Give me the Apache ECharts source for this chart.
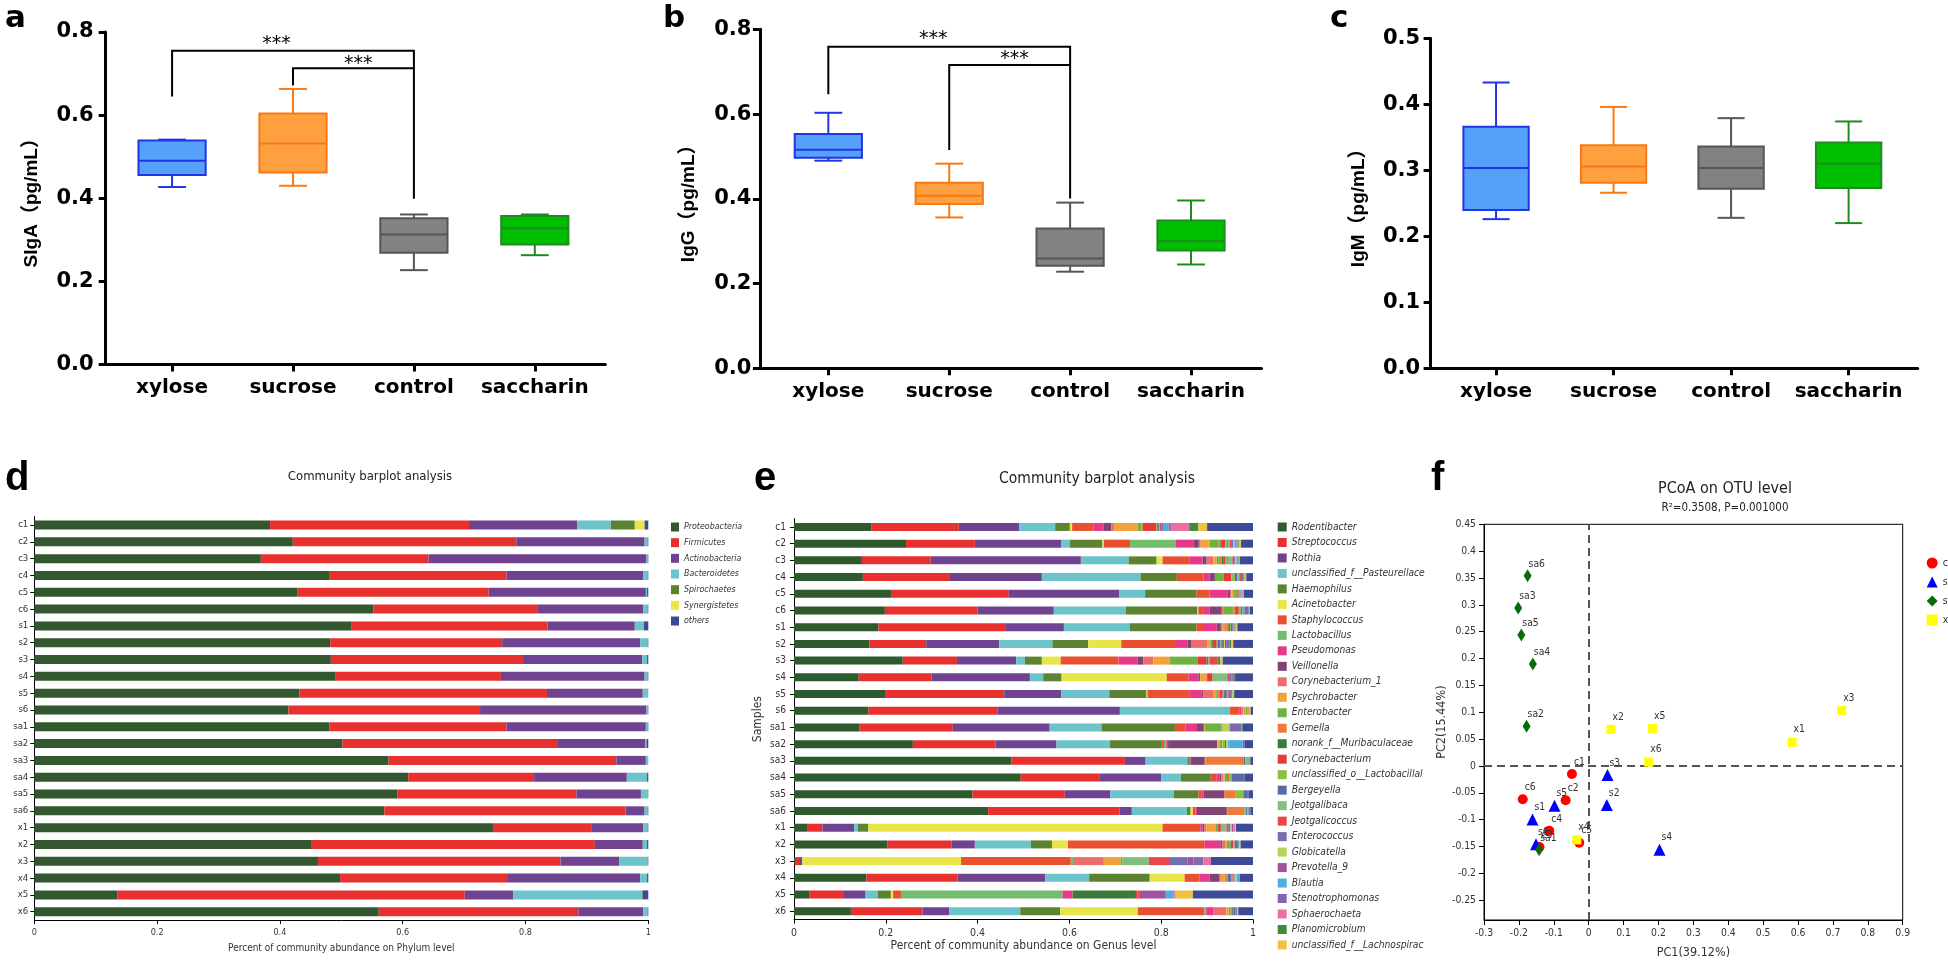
<!DOCTYPE html>
<html><head><meta charset="utf-8">
<script src="https://cdn.jsdelivr.net/npm/echarts@6/dist/echarts.min.js"></script>
<style>html,body{margin:0;padding:0;background:#fff}#c{width:1948px;height:964px}</style>
</head><body><div id="c"></div>
<script>
// ---------- DATA ----------
const groups = ['xylose', 'sucrose', 'control', 'saccharin'];
// [min, Q1, median, Q3, max]
const sigaBox = [[0.427, 0.456, 0.490, 0.539, 0.541], [0.430, 0.462, 0.532, 0.604, 0.663], [0.227, 0.269, 0.313, 0.352, 0.361], [0.263, 0.289, 0.328, 0.357, 0.361]];
const iggBox = [[0.490, 0.497, 0.516, 0.553, 0.603], [0.356, 0.388, 0.407, 0.438, 0.483], [0.228, 0.242, 0.259, 0.330, 0.391], [0.245, 0.278, 0.300, 0.349, 0.396]];
const igmBox = [[0.226, 0.240, 0.3035, 0.366, 0.433], [0.266, 0.281, 0.3056, 0.338, 0.396], [0.228, 0.272, 0.3035, 0.336, 0.379], [0.220, 0.273, 0.310, 0.342, 0.374]];
// [fromGroup, toGroup, barLevel, leftLegEnd, rightLegEnd]
const sigaBrackets = [[0, 2, 0.755, 0.645, 0.399], [1, 2, 0.713, 0.671, 0.713]];
const iggBrackets = [[0, 2, 0.759, 0.647, 0.401], [1, 2, 0.716, 0.515, 0.716]];
const sigaStars = [[0.864, 0.772], [1.54, 0.722]];
const iggStars = [[0.868, 0.778], [1.54, 0.729]];

const samples = ['c1','c2','c3','c4','c5','c6','s1','s2','s3','s4','s5','s6','sa1','sa2','sa3','sa4','sa5','sa6','x1','x2','x3','x4','x5','x6'];
const phyla = ['Proteobacteria', 'Firmicutes', 'Actinobacteria', 'Bacteroidetes', 'Spirochaetes', 'Synergistetes', 'others'];
const proteobacteria = [0.384,0.421,0.369,0.480,0.428,0.552,0.517,0.482,0.483,0.491,0.432,0.414,0.481,0.502,0.577,0.609,0.591,0.570,0.747,0.452,0.462,0.498,0.135,0.561];
const firmicutes = [0.324,0.364,0.273,0.289,0.312,0.267,0.319,0.280,0.313,0.269,0.403,0.312,0.288,0.351,0.371,0.205,0.292,0.393,0.160,0.461,0.395,0.272,0.566,0.325];
const actinobacteria = [0.176,0.209,0.355,0.223,0.256,0.173,0.142,0.225,0.194,0.234,0.156,0.271,0.227,0.142,0.048,0.151,0.105,0.031,0.085,0.078,0.096,0.217,0.079,0.106];
const bacteroidetes = [0.055,0.005,0.002,0.007,0.002,0.007,0.015,0.012,0.008,0.005,0.009,0.002,0.003,0.002,0.004,0.033,0.011,0.005,0.007,0.007,0.046,0.011,0.210,0.007];
const spirochaetes = [0.039,0,0,0,0,0,0,0,0,0,0,0,0,0,0,0,0.001,0,0,0,0,0,0.001,0];
const synergistetes = [0.016,0,0,0,0,0,0,0,0,0,0,0,0,0,0,0,0,0,0,0,0,0,0,0];
const phylumOthers = [0.006,0.001,0.001,0.001,0.002,0.001,0.007,0.001,0.002,0.001,0,0.001,0.001,0.003,0,0.002,0,0.001,0.001,0.002,0.001,0.002,0.009,0.001];

const genera = ['Rodentibacter','Streptococcus','Rothia','unclassified_f__Pasteurellaceae','Haemophilus','Acinetobacter','Staphylococcus','Lactobacillus','Pseudomonas','Veillonella','Corynebacterium_1','Psychrobacter','Enterobacter','Gemella','norank_f__Muribaculaceae','Corynebacterium','unclassified_o__Lactobacillales','Bergeyella','Jeotgalibaca','Jeotgalicoccus','Enterococcus','Globicatella','Prevotella_9','Blautia','Stenotrophomonas','Sphaerochaeta','Planomicrobium','unclassified_f__Lachnospiraceae','others'];
// per-sample genus abundances, in the order of `genera`
const gen_c1 = [.168,.191,.132,.078,.032,.005,.046,0,.023,.016,.006,.052,.008,.003,0,.029,.002,.004,.002,.003,.004,0,0,.012,.005,.040,.020,.019,.100];
const gen_c2 = [.244,.150,.188,.019,.071,.003,.057,.100,.038,.012,.004,.020,.019,.004,.003,.008,.004,.003,.003,.004,.003,.002,.001,.005,.001,.001,.002,.005,.026];
const gen_c3 = [.148,.150,.327,.104,.061,.013,.058,0,.029,.009,.015,.007,.005,.006,.003,.004,.004,.002,.010,.004,.002,.002,.001,.001,.001,.001,.002,.002,.029];
const gen_c4 = [.150,.188,.202,.215,.079,0,.058,0,.013,.012,0,0,.019,0,0,.017,.007,.006,.004,.004,.006,.004,.002,0,0,0,0,0,.014];
const gen_c5 = [.213,.255,.241,.056,.112,0,.028,0,.040,.005,.003,.004,.004,.003,.002,.003,.002,.002,.002,.002,.001,.002,0,0,0,0,0,0,.020];
const gen_c6 = [.198,.202,.166,.157,.156,.002,.012,0,.012,.027,.003,0,.022,.004,0,.008,.004,.003,.003,.002,.010,.002,0,0,0,0,0,0,.007];
const gen_s1 = [.184,.276,.128,.144,.145,0,.014,0,.030,.009,.004,.005,.003,.003,.002,.003,.002,.004,.002,.002,.002,.004,0,0,0,0,0,0,.034];
const gen_s2 = [.164,.124,.159,.116,.078,.072,.117,0,.027,.008,.035,.005,.003,.003,.002,.008,.002,.005,.002,.002,.005,.002,.004,0,.006,0,.004,.004,.043];
const gen_s3 = [.237,.118,.129,.019,.037,.041,.126,0,.041,.013,.022,.035,.061,0,0,.020,0,.003,.003,.017,.002,0,0,0,0,0,.005,.005,.066];
const gen_s4 = [.141,.159,.214,.029,.040,.229,.047,0,.022,.004,0,.015,0,0,0,.012,.003,0,.029,.004,.005,0,.003,0,.003,0,.002,0,.039];
const gen_s5 = [.200,.258,.124,.105,.081,.002,.091,0,.027,.004,.021,.007,.004,.004,0,.006,.003,.006,.003,.004,.004,.005,0,0,0,0,0,0,.041];
const gen_s6 = [.162,.281,.267,.240,0,0,.020,0,.005,0,.004,.005,.004,.003,0,0,0,0,0,0,0,.004,0,0,0,0,0,0,.005];
const gen_sa1 = [.142,.204,.211,.113,.162,0,.021,0,.025,.015,0,.002,.036,.003,0,0,0,0,0,0,0,.015,0,0,.025,.002,.002,0,.022];
const gen_sa2 = [.259,.180,.133,.116,.112,0,.006,.005,.004,.107,0,.006,.005,0,0,0,.006,.003,0,0,0,.004,0,.032,.004,0,0,0,.018];
const gen_sa3 = [.474,.247,.045,.091,.004,0,0,0,.003,.031,.002,0,0,.083,0,0,0,.003,.009,0,.003,0,0,0,0,0,0,0,.005];
const gen_sa4 = [.494,.171,.135,.043,.065,0,.013,0,.006,.004,.004,.003,.006,0,.002,.003,.004,.029,0,0,0,0,0,0,0,0,0,0,.018];
const gen_sa5 = [.389,.201,.099,.139,.053,0,.006,0,.005,.045,.002,0,0,.022,0,0,.018,.008,0,0,.003,0,0,0,0,0,0,0,.010];
const gen_sa6 = [.423,.286,.027,.120,.008,.005,.006,0,.003,.065,.002,0,0,.036,0,0,.004,.003,.002,0,.005,0,0,0,0,0,0,0,.005];
const gen_x1 = [.030,.032,.069,.008,.023,.641,.082,0,.005,.004,.004,.020,.006,0,0,.006,0,0,.012,.004,.005,.003,.003,0,0,.004,0,.002,.037];
const gen_x2 = [.203,.140,.051,.122,.046,.035,.297,0,.035,.004,.006,.004,.005,.003,.003,.003,.003,.005,0,0,.004,.004,0,0,0,0,0,0,.027];
const gen_x3 = [.002,.009,.007,0,0,.346,.239,.005,0,0,.067,.037,.003,0,0,0,0,0,.058,.044,.040,0,.013,0,.022,.016,0,0,.092];
const gen_x4 = [.158,.198,.191,.096,.132,.076,.032,0,.022,.021,.004,.008,.003,.004,0,0,0,.007,.003,.002,.003,.004,0,.007,0,0,0,0,.029];
const gen_x5 = [.033,.074,.049,.026,.029,.005,.017,.352,.022,0,0,0,0,0,.138,.003,0,0,0,.004,0,0,.058,.016,0,.004,0,.039,.131];
const gen_x6 = [.124,.156,.058,.155,.087,.169,.145,.004,.015,0,.029,.005,.004,.003,.002,.002,0,.004,0,0,.003,.003,0,0,0,0,0,0,.032];

// PCoA coordinates [PC1, PC2]
const pcoaC = [[-0.048,-0.015],[-0.066,-0.064],[-0.141,-0.151],[-0.113,-0.121],[-0.027,-0.143],[-0.189,-0.062]];
const pcoaS = [[-0.161,-0.100],[0.052,-0.073],[0.054,-0.017],[0.203,-0.156],[-0.098,-0.074],[-0.151,-0.146]];
const pcoaSa = [[-0.142,-0.156],[-0.178,0.074],[-0.202,0.294],[-0.160,0.190],[-0.193,0.244],[-0.175,0.354]];
const pcoaX = [[0.583,0.044],[0.064,0.068],[0.725,0.103],[-0.034,-0.138],[0.183,0.070],[0.172,0.007]];
const pcoaYTicks = [-0.25,-0.2,-0.15,-0.1,-0.05,0,0.05,0.1,0.15,0.2,0.25,0.3,0.35,0.4,0.45];

// ---------- STYLE ----------
const boxFill = ['#57A0F9', '#FFA040', '#828282', '#00BF00'];
const boxLine = ['#1F35E6', '#F57A15', '#555555', '#1E8B1E'];
const phylumColors = ['#33582F','#E8312F','#6F4390','#6CC3C9','#5B8332','#E8E548','#3D4A97'];
const genusColors = ['#2E5A2E','#E8312F','#6F4390','#6CC3C9','#5B8332','#E8E548','#E8502F','#72BE6E','#E8388A','#7E4474','#EE6D6A','#F2A23A','#6DB33F','#EE7A3E','#3A7A3A','#E63A3A','#8CBF3F','#5A6CA8','#7FC080','#E84848','#7270B0','#B5D35A','#A0529E','#4FAEE0','#8068B0','#EC6FA0','#3E8A3E','#F2C040','#3D4A97'];
const SANS = '"Liberation Sans", Arial, "Noto Sans CJK SC", sans-serif';
const WIDE = '"DejaVu Sans", "Liberation Sans", sans-serif';
const NARROW = '"DejaVu Sans Condensed", "Liberation Sans", sans-serif';

// ---------- BUILD ----------
const phylumValues = [proteobacteria, firmicutes, actinobacteria, bacteroidetes, spirochaetes, synergistetes, phylumOthers];
const genusRows = [gen_c1,gen_c2,gen_c3,gen_c4,gen_c5,gen_c6,gen_s1,gen_s2,gen_s3,gen_s4,gen_s5,gen_s6,gen_sa1,gen_sa2,gen_sa3,gen_sa4,gen_sa5,gen_sa6,gen_x1,gen_x2,gen_x3,gen_x4,gen_x5,gen_x6];

function boxRender(params, api) {
  const i = api.value(0);
  const pMin = api.coord([i, api.value(1)]), pQ1 = api.coord([i, api.value(2)]), pMd = api.coord([i, api.value(3)]);
  const pQ3 = api.coord([i, api.value(4)]), pMx = api.coord([i, api.value(5)]);
  const band = api.size([1, 0])[0];
  const bw = band * 0.556, cw = band * 0.23;
  const x = pMin[0];
  const ls = { stroke: boxLine[i], lineWidth: 2, fill: null };
  return { type: 'group', children: [
    { type: 'line', shape: { x1: x, y1: pMx[1], x2: x, y2: pQ3[1] }, style: ls },
    { type: 'line', shape: { x1: x, y1: pQ1[1], x2: x, y2: pMin[1] }, style: ls },
    { type: 'line', shape: { x1: x - cw / 2, y1: pMx[1], x2: x + cw / 2, y2: pMx[1] }, style: ls },
    { type: 'line', shape: { x1: x - cw / 2, y1: pMin[1], x2: x + cw / 2, y2: pMin[1] }, style: ls },
    { type: 'rect', shape: { x: x - bw / 2, y: pQ3[1], width: bw, height: pQ1[1] - pQ3[1] }, style: { fill: boxFill[i], stroke: boxLine[i], lineWidth: 2 } },
    { type: 'line', shape: { x1: x - bw / 2, y1: pMd[1], x2: x + bw / 2, y2: pMd[1] }, style: ls }
  ]};
}
function bracketRender(params, api) {
  const a = api.value(0), b = api.value(1), top = api.value(2), l1 = api.value(3), l2 = api.value(4);
  const pA = api.coord([a, top]), pB = api.coord([b, top]);
  const pA2 = api.coord([a, l1]), pB2 = api.coord([b, l2]);
  return { type: 'polyline', shape: { points: [[pA2[0], pA2[1]], [pA[0], pA[1]], [pB[0], pB[1]], [pB2[0], pB2[1]]] },
    style: { stroke: '#000', lineWidth: 2, fill: null } };
}
function starRender(params, api) {
  const p = api.coord([api.value(0), api.value(1)]);
  return { type: 'text', x: p[0], y: p[1], style: { text: '***', fill: '#000', font: '19px ' + WIDE, textAlign: 'center', textVerticalAlign: 'middle', align: 'center', verticalAlign: 'middle' } };
}

const topPanels = [
  { left: 105.7, top: 32, width: 499.6, height: 332.5, xmin: -0.549, xmax: 3.583, ymax: 0.8, step: 0.2, name: 'SIgA（pg/mL）', nameGap: 64, margin: 12, box: sigaBox, brackets: sigaBrackets, stars: sigaStars },
  { left: 759.9, top: 29.3, width: 501.6, height: 339, xmin: -0.566, xmax: 3.583, ymax: 0.8, step: 0.2, name: 'IgG（pg/mL）', nameGap: 62, margin: 8.5, box: iggBox, brackets: iggBrackets, stars: iggStars },
  { left: 1430.6, top: 38.3, width: 487.1, height: 330, xmin: -0.557, xmax: 3.588, ymax: 0.5, step: 0.1, name: 'IgM（pg/mL）', nameGap: 62, margin: 10.5, box: igmBox, brackets: null, stars: null }
];

const grid = [], xAxis = [], yAxis = [], series = [];
topPanels.forEach((p, k) => {
  grid.push({ left: p.left, top: p.top, width: p.width, height: p.height, outerBoundsMode: 'none', containLabel: false });
  xAxis.push({ type: 'value', gridIndex: k, min: p.xmin, max: p.xmax,
    axisLine: { show: true, onZero: false, lineStyle: { color: '#000', width: 3 } },
    axisTick: { show: true, length: 7, lineStyle: { color: '#000', width: 3 }, customValues: [0, 1, 2, 3] },
    axisLabel: { customValues: [0, 1, 2, 3], formatter: v => groups[Math.round(v)], color: '#000', fontFamily: WIDE, fontWeight: 'bold', fontSize: 20, margin: 13 },
    splitLine: { show: false } });
  yAxis.push({ type: 'value', gridIndex: k, min: 0, max: p.ymax, interval: p.step,
    name: p.name, nameLocation: 'middle', nameRotate: 90, nameGap: p.nameGap,
    nameTextStyle: { color: '#000', fontFamily: SANS, fontWeight: 'bold', fontSize: 19 },
    axisLine: { show: true, onZero: false, lineStyle: { color: '#000', width: 3 } },
    axisTick: { show: true, length: 7, lineStyle: { color: '#000', width: 3 } },
    axisLabel: { formatter: v => v.toFixed(1), color: '#000', fontFamily: WIDE, fontWeight: 'bold', fontSize: 21, margin: p.margin },
    splitLine: { show: false } });
  series.push({ type: 'custom', xAxisIndex: k, yAxisIndex: k, renderItem: boxRender, encode: { x: 0, y: [1, 5] },
    data: p.box.map((b, i) => [i].concat(b)), silent: true, z: 3 });
  if (p.brackets) {
    series.push({ type: 'custom', xAxisIndex: k, yAxisIndex: k, renderItem: bracketRender, encode: { x: [0, 1], y: [2, 3] }, data: p.brackets, silent: true, z: 4 });
    series.push({ type: 'custom', xAxisIndex: k, yAxisIndex: k, renderItem: starRender, encode: { x: 0, y: 1 }, data: p.stars, silent: true, z: 4 });
  }
});

// d: phylum barplot (grid 3)
grid.push({ left: 34.3, top: 516.6, width: 614, height: 403.5, outerBoundsMode: 'none', containLabel: false });
xAxis.push({ type: 'value', gridIndex: 3, min: 0, max: 1, interval: 0.2,
  axisLine: { show: true, lineStyle: { color: '#000', width: 1 } },
  axisTick: { show: true, length: 4, lineStyle: { color: '#000' } },
  axisLabel: { formatter: v => (v === 0 ? '0' : v === 1 ? '1' : v.toFixed(1)), color: '#333', fontFamily: NARROW, fontSize: 9, margin: 8 },
  splitLine: { show: false },
  name: 'Percent of community abundance on Phylum level', nameLocation: 'middle', nameGap: 23,
  nameTextStyle: { color: '#333', fontFamily: NARROW, fontSize: 10 } });
yAxis.push({ type: 'category', gridIndex: 3, data: samples, inverse: true,
  axisLine: { show: true, lineStyle: { color: '#000', width: 1 } },
  axisTick: { show: true, alignWithLabel: true, length: 4, lineStyle: { color: '#000' } },
  axisLabel: { color: '#333', fontFamily: NARROW, fontSize: 9.5, margin: 6 } });
phyla.forEach((name, k) => series.push({ type: 'bar', name, stack: 'phy', xAxisIndex: 3, yAxisIndex: 3, barWidth: 9,
  itemStyle: { color: phylumColors[k] }, data: phylumValues[k], silent: true }));

// e: genus barplot (grid 4)
grid.push({ left: 794, top: 518.6, width: 459, height: 401, outerBoundsMode: 'none', containLabel: false });
xAxis.push({ type: 'value', gridIndex: 4, min: 0, max: 1, interval: 0.2,
  axisLine: { show: true, lineStyle: { color: '#000', width: 1 } },
  axisTick: { show: true, length: 4, lineStyle: { color: '#000' } },
  axisLabel: { formatter: v => (v === 0 ? '0' : v === 1 ? '1' : v.toFixed(1)), color: '#333', fontFamily: NARROW, fontSize: 10.5, margin: 8 },
  splitLine: { show: false },
  name: 'Percent of community abundance on Genus level', nameLocation: 'middle', nameGap: 20,
  nameTextStyle: { color: '#333', fontFamily: NARROW, fontSize: 12 } });
yAxis.push({ type: 'category', gridIndex: 4, data: samples, inverse: true,
  name: 'Samples', nameLocation: 'middle', nameRotate: 90, nameGap: 30,
  nameTextStyle: { color: '#333', fontFamily: NARROW, fontSize: 12 },
  axisLine: { show: true, lineStyle: { color: '#000', width: 1 } },
  axisTick: { show: true, alignWithLabel: true, length: 4, lineStyle: { color: '#000' } },
  axisLabel: { color: '#333', fontFamily: NARROW, fontSize: 10, margin: 8 } });
genera.forEach((name, k) => series.push({ type: 'bar', name, stack: 'gen', xAxisIndex: 4, yAxisIndex: 4, barWidth: 8,
  itemStyle: { color: genusColors[k] }, data: genusRows.map(r => r[k]), silent: true }));

// f: PCoA (grid 5)
grid.push({ left: 1484, top: 524.3, width: 418.7, height: 395.7, show: true, borderColor: '#000', borderWidth: 1, backgroundColor: 'transparent', outerBoundsMode: 'none', containLabel: false });
xAxis.push({ type: 'value', gridIndex: 5, min: -0.3, max: 0.9, interval: 0.1,
  axisLine: { show: true, onZero: false, lineStyle: { color: '#000', width: 1 } },
  axisTick: { show: true, length: 5, lineStyle: { color: '#000' } },
  axisLabel: { formatter: v => String(+v.toFixed(2)), color: '#333', fontFamily: NARROW, fontSize: 10.3, margin: 8 },
  splitLine: { show: false },
  name: 'PC1(39.12%)', nameLocation: 'middle', nameGap: 26,
  nameTextStyle: { color: '#333', fontFamily: NARROW, fontSize: 12.5 } });
yAxis.push({ type: 'value', gridIndex: 5, min: -0.287, max: 0.45,
  axisLine: { show: true, onZero: false, lineStyle: { color: '#000', width: 1 } },
  axisTick: { show: true, length: 5, lineStyle: { color: '#000' }, customValues: pcoaYTicks },
  axisLabel: { customValues: pcoaYTicks, formatter: v => String(+v.toFixed(2)), color: '#333', fontFamily: NARROW, fontSize: 10.3, margin: 8 },
  splitLine: { show: false },
  name: 'PC2(15.44%)', nameLocation: 'middle', nameRotate: 90, nameGap: 36,
  nameTextStyle: { color: '#333', fontFamily: NARROW, fontSize: 12.5 } });

const pcoaGroups = [
  { name: 'c', pts: pcoaC, labels: samples.slice(0, 6), symbol: 'circle', size: 10, color: '#FF0000', pos: [7, -12] },
  { name: 's', pts: pcoaS, labels: samples.slice(6, 12), symbol: 'triangle', size: 12, color: '#0000FF', pos: [8, -11] },
  { name: 'sa', pts: pcoaSa, labels: samples.slice(12, 18), symbol: 'diamond', size: [8, 13], color: '#0A6B0A', pos: [5, -10] },
  { name: 'x', pts: pcoaX, labels: samples.slice(18, 24), symbol: 'rect', size: 9, color: '#FFFF00', pos: [6, -13] }
];
pcoaGroups.forEach((g, k) => {
  const s = { type: 'scatter', name: g.name, xAxisIndex: 5, yAxisIndex: 5, symbol: g.symbol, symbolSize: g.size,
    itemStyle: { color: g.color, opacity: 1 }, silent: true, z: 5,
    data: g.pts.map((p, i) => ({ name: g.labels[i], value: p })),
    label: { show: true, formatter: '{b}', position: g.pos, color: '#333', fontFamily: NARROW, fontSize: 10.3 } };
  if (k === 0) {
    s.markLine = { silent: true, symbol: 'none', label: { show: false }, animation: false,
      lineStyle: { color: '#555', type: [8, 5], width: 2 }, data: [{ xAxis: 0 }, { yAxis: 0 }] };
  }
  series.push(s);
});

const letters = [
  { t: 'a', x: 5, y: 19, fs: 31, f: WIDE }, { t: 'b', x: 663, y: 19, fs: 31, f: WIDE }, { t: 'c', x: 1330, y: 19, fs: 31, f: WIDE },
  { t: 'd', x: 5, y: 479, fs: 40, f: SANS }, { t: 'e', x: 754, y: 479, fs: 40, f: SANS }, { t: 'f', x: 1431, y: 479, fs: 40, f: SANS }
];
const graphic = letters.map(l => ({ type: 'text', x: l.x, y: l.y, silent: true,
  style: { text: l.t, font: 'bold ' + l.fs + 'px ' + l.f, fill: '#000', textAlign: 'left', textVerticalAlign: 'middle', align: 'left', verticalAlign: 'middle' } }));
[
  { t: 'Community barplot analysis', x: 370, y: 477, fs: 13 },
  { t: 'Community barplot analysis', x: 1097, y: 479, fs: 15.5 },
  { t: 'PCoA on OTU level', x: 1725, y: 489, fs: 16 },
  { t: 'R²=0.3508, P=0.001000', x: 1725, y: 508, fs: 11.5 }
].forEach(t => graphic.push({ type: 'text', x: t.x, y: t.y, silent: true,
  style: { text: t.t, font: t.fs + 'px ' + NARROW, fill: '#222', textAlign: 'center', textVerticalAlign: 'middle', align: 'center', verticalAlign: 'middle' } }));

const legend = [
  { left: 666, top: 516, orient: 'vertical', icon: 'rect', itemWidth: 8, itemHeight: 9, itemGap: 3.67, selectedMode: false,
    data: phyla, textStyle: { color: '#333', fontFamily: NARROW, fontStyle: 'italic', fontSize: 8.8, lineHeight: 12 } },
  { left: 1272.7, top: 516, orient: 'vertical', icon: 'rect', itemWidth: 9, itemHeight: 9, itemGap: 3.48, selectedMode: false,
    data: genera.slice(0, 28), textStyle: { color: '#333', fontFamily: NARROW, fontStyle: 'italic', fontSize: 10.2, lineHeight: 12, width: 137, overflow: 'truncate', ellipsis: '' } },
  { left: 1921.7, top: 552.5, orient: 'vertical', itemWidth: 11, itemHeight: 11, itemGap: 8, selectedMode: false,
    data: [{ name: 'c', icon: 'circle' }, { name: 's', icon: 'triangle' }, { name: 'sa', icon: 'diamond' }, { name: 'x', icon: 'rect' }],
    textStyle: { color: '#333', fontFamily: NARROW, fontSize: 10.5 } }
];

const chart = echarts.init(document.getElementById('c'), null, { renderer: 'canvas' });
chart.setOption({ animation: false, backgroundColor: '#fff', textStyle: { fontFamily: SANS },
  grid, xAxis, yAxis, series, graphic, legend });
</script></body></html>
